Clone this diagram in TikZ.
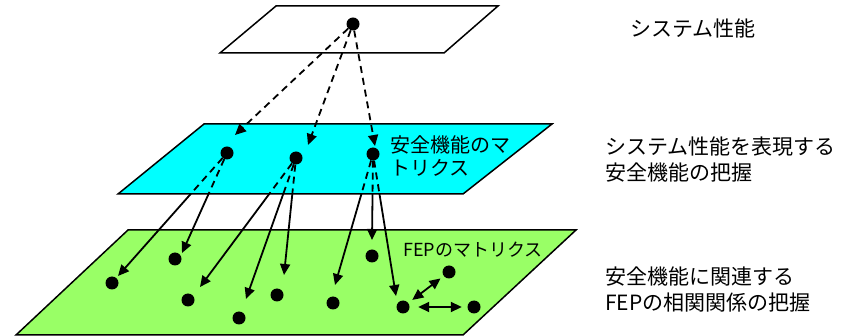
\documentclass[tikz,border=0pt]{standalone}
\usepackage{fontspec}
\setmainfont{Noto Sans CJK JP}
\usetikzlibrary{arrows.meta}
\definecolor{planecyan}{RGB}{0,255,255}
\definecolor{planegreen}{RGB}{153,255,102}
\begin{document}
\begin{tikzpicture}[x=1pt,y=-1pt,
  plane/.style={draw=black, line width=1.5pt, line join=miter},
  dot/.style={circle, fill=black, inner sep=0pt, minimum size=13pt},
  tip/.style={Triangle[length=11pt,width=10pt]},
  link/.style={line width=1.8pt, -{Triangle[length=11pt,width=10pt]}},
  twoway/.style={line width=1.8pt, {Triangle[length=11pt,width=10pt]}-{Triangle[length=11pt,width=10pt]}},
  hidden/.style={line width=1.8pt, dash pattern=on 7pt off 5pt},
  lbl/.style={inner sep=0pt, anchor=west, align=left}]
\useasboundingbox (0,0) rectangle (851,336);

% three stacked planes
\draw[plane, fill=white]      (220,53) -- (444,53) -- (498,6) -- (276,6) -- cycle;
\draw[plane, fill=planecyan]  (118,194) -- (463,194) -- (552,124) -- (204,124) -- cycle;
\draw[plane, fill=planegreen] (16,335) -- (463,335) -- (576,230) -- (128,230) -- cycle;

% system performance
\node[dot] (top) at (353,24) {};
% safety functions
\node[dot] (s1) at (227,153) {};
\node[dot] (s2) at (296,158) {};
\node[dot] (s3) at (373,154) {};
% FEPs
\node[dot] (f1) at (112,283) {};
\node[dot] (f2) at (175,259) {};
\node[dot] (f3) at (188,300) {};
\node[dot] (f4) at (239,318) {};
\node[dot] (f5) at (277,295) {};
\node[dot] (f6) at (333,303) {};
\node[dot] (f7) at (372,256) {};
\node[dot] (f8) at (403,307) {};
\node[dot] (f9) at (449,272) {};
\node[dot] (f10) at (474,307) {};

% arrow end points
\coordinate (ta1) at (235,135);
\coordinate (ta2) at (308,145);
\coordinate (ta3) at (375,146);
\coordinate (tb1) at (118,276);
\coordinate (tb2) at (182,253);
\coordinate (tb3) at (200,287);
\coordinate (tb4) at (246,299);
\coordinate (tb5) at (284,275);
\coordinate (tb6) at (335,285);
\coordinate (tb7) at (372,240);
\coordinate (tb8) at (396,296);

% performance -> safety functions
\draw[link, dash pattern=on 7pt off 5pt] (top) -- (ta1);
\draw[link, dash pattern=on 7pt off 5pt] (top) -- (ta2);
\draw[link, dash pattern=on 7pt off 5pt] (top) -- (ta3);

% safety functions -> FEPs: dashed while behind the cyan plane, solid below it
\begin{scope}
  \clip (0,0) rectangle (851,194);
  \draw[hidden] (s1) -- (tb1);
  \draw[hidden] (s1) -- (tb2);
  \draw[hidden] (s2) -- (tb3);
  \draw[hidden] (s2) -- (tb4);
  \draw[hidden] (s2) -- (tb5);
  \draw[hidden] (s3) -- (tb6);
  \draw[hidden] (s3) -- (tb7);
  \draw[hidden] (s3) -- (tb8);
\end{scope}
\begin{scope}
  \clip (0,194) rectangle (851,336);
  \draw[link] (s1) -- (tb1);
  \draw[link] (s1) -- (tb2);
  \draw[link] (s2) -- (tb3);
  \draw[link] (s2) -- (tb4);
  \draw[link] (s2) -- (tb5);
  \draw[link] (s3) -- (tb6);
  \draw[link] (s3) -- (tb7);
  \draw[link] (s3) -- (tb8);
\end{scope}

% correlations among FEPs
\draw[twoway, shorten <=5pt, shorten >=4pt] (f8) -- (f9);
\draw[twoway, shorten <=8.5pt, shorten >=5.5pt] (f8) -- (f10);

% plane labels
\node[lbl, font=\fontsize{20}{23}\selectfont] (lcyan) at (390,156.5) {安全機能のマ\\トリクス};
\node[lbl, font=\fontsize{18}{22}\selectfont] (lgreen) at (403,250) {FEPのマトリクス};

% level descriptions
\node[lbl, font=\fontsize{21}{26}\selectfont] (r1) at (630,29) {システム性能};
\node[lbl, font=\fontsize{21}{26}\selectfont] (r2) at (605,160) {システム性能を表現する\\安全機能の把握};
\node[lbl, font=\fontsize{21}{26}\selectfont] (r3) at (605,289.5) {安全機能に関連する\\FEPの相関関係の把握};
\end{tikzpicture}
\end{document}
